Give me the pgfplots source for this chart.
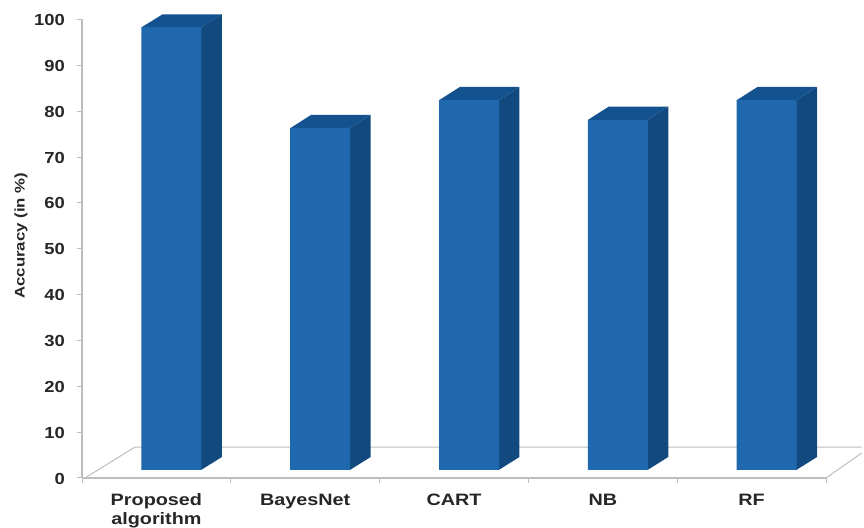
\documentclass[border=0pt]{standalone}
\usepackage{pgfplots}
\pgfplotsset{compat=1.18}
\usepackage{fontspec}
\setmainfont{Liberation Sans}
\newfontfamily\labelfont[FakeStretch=1.2]{Liberation Sans Bold}
\newfontfamily\numfont[FakeStretch=1.15]{Liberation Sans Bold}
\definecolor{barfront}{HTML}{2068AE}
\definecolor{barside}{HTML}{124A80}
\definecolor{bartop}{HTML}{14528F}
\definecolor{gridgray}{HTML}{BDBDBD}
\begin{document}
\begin{tikzpicture}[x=1pt,y=1pt]
\useasboundingbox (0,0) rectangle (864,527);
\begin{axis}[
  at={(82pt,49pt)}, anchor=south west,
  scale only axis, width=744pt, height=458.5pt,
  xmin=-0.5, xmax=4.5, ymin=0, ymax=100,
  axis x line=bottom, axis y line=left,
  axis line style={gridgray, line width=1.5pt, -},
  clip=false,
  xtick={0,1,2,3,4},
  xticklabels={{Proposed\\algorithm},BayesNet,CART,NB,RF},
  minor xtick={-0.5,0.5,1.5,2.5,3.5,4.5},
  ytick={0,10,...,100},
  tick align=outside,
  major x tick style={draw=none},
  minor x tick style={gridgray, line width=1pt},
  minor tick length=5pt,
  major tick length=5pt,
  y tick style={gridgray, line width=1pt},
  /pgf/number format/assume math mode=true,
  yticklabel style={font=\numfont\fontsize{16}{16}\selectfont, text=black!85, inner sep=0pt, xshift=-12pt, yshift=-0.5pt},
  xticklabel style={font=\labelfont\fontsize{16.5}{19}\selectfont, text=black!85, align=center, inner sep=0pt, yshift=-10.5pt, anchor=north},
  ylabel={Accuracy (in \%)},
  every axis y label/.style={at={(axis description cs:0,0.5)}, anchor=center, rotate=90, xshift=13pt, yshift=61pt, font=\labelfont\fontsize{14}{14}\selectfont, text=black!85},
]
% floor of the 3D frame
\addplot[gridgray, line width=1pt] coordinates {(-0.48,0) (-0.144,6.76) (4.74,6.76)};
\addplot[gridgray, line width=1pt] coordinates {(4.5,0) (4.74,5.45)};

% side faces
\addplot[fill=barside, draw=none] coordinates {(0.30,1.74) (0.44,4.58) (0.44,101.1) (0.30,98.3)} --cycle;
\addplot[fill=barside, draw=none] coordinates {(1.30,1.74) (1.44,4.58) (1.44,79.2) (1.30,76.3)} --cycle;
\addplot[fill=barside, draw=none] coordinates {(2.30,1.74) (2.44,4.58) (2.44,85.3) (2.30,82.4)} --cycle;
\addplot[fill=barside, draw=none] coordinates {(3.30,1.74) (3.44,4.58) (3.44,81.0) (3.30,78.1)} --cycle;
\addplot[fill=barside, draw=none] coordinates {(4.30,1.74) (4.44,4.58) (4.44,85.3) (4.30,82.4)} --cycle;

% top faces
\addplot[fill=bartop, draw=none] coordinates {(-0.10,98.3) (0.04,101.1) (0.44,101.1) (0.30,98.3)} --cycle;
\addplot[fill=bartop, draw=none] coordinates {(0.90,76.3) (1.04,79.2) (1.44,79.2) (1.30,76.3)} --cycle;
\addplot[fill=bartop, draw=none] coordinates {(1.90,82.4) (2.04,85.3) (2.44,85.3) (2.30,82.4)} --cycle;
\addplot[fill=bartop, draw=none] coordinates {(2.90,78.1) (3.04,81.0) (3.44,81.0) (3.30,78.1)} --cycle;
\addplot[fill=bartop, draw=none] coordinates {(3.90,82.4) (4.04,85.3) (4.44,85.3) (4.30,82.4)} --cycle;

% front faces: accuracy of each method, raised onto the floor
\addplot[ybar, bar width=60pt, bar shift=15pt, yshift=8pt, fill=barfront, draw=none]
  coordinates {(0,96.6) (1,74.6) (2,80.7) (3,76.3) (4,80.7)};
\end{axis}
\end{tikzpicture}
\end{document}
